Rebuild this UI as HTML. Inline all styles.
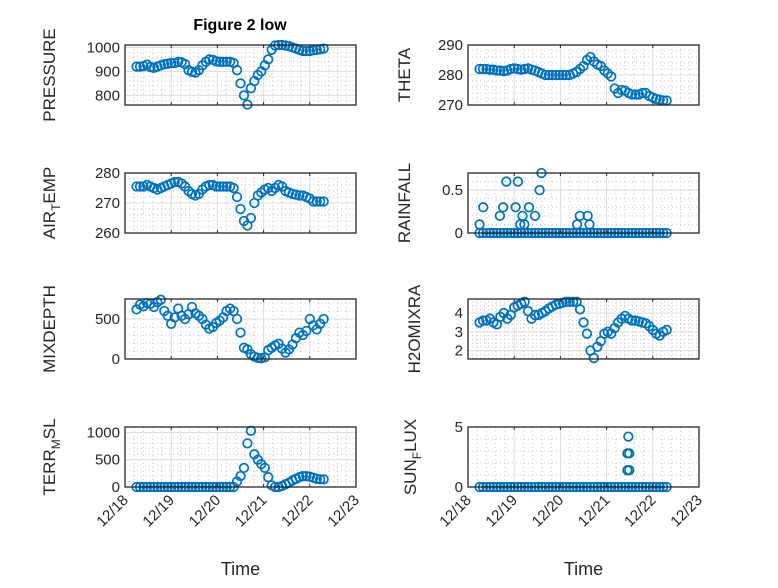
<!DOCTYPE html>
<html><head><meta charset="utf-8"><style>
body{margin:0;background:#fff;}
svg{font-family:"Liberation Sans","DejaVu Sans",sans-serif;}
</style></head><body>
<svg id="c" width="778" height="583" xmlns="http://www.w3.org/2000/svg"></svg>
<script>
const days=[0.25,0.325,0.4,0.475,0.55,0.625,0.7,0.775,0.85,0.925,1.0,1.075,1.15,1.225,1.3,1.375,1.45,1.525,1.6,1.675,1.75,1.825,1.9,1.975,2.05,2.125,2.2,2.275,2.35,2.425,2.5,2.575,2.65,2.725,2.8,2.875,2.95,3.025,3.1,3.175,3.25,3.325,3.4,3.475,3.55,3.625,3.7,3.775,3.85,3.925,4.0,4.075,4.15,4.225,4.3];
const pressure=[920,920,922,928,918,915,920,925,930,932,935,935,940,938,930,905,898,895,905,925,940,950,948,942,940,940,940,940,935,905,850,800,762,830,860,885,900,925,950,990,1008,1010,1010,1008,1005,1000,995,990,985,985,985,988,990,992,995];
const theta=[282,282,282,281.8,281.8,281.5,281.5,281.3,281.5,282,282.2,282,281.8,282,282.2,281.8,281.5,281,280.5,280,280,280,280,280,280,280,280,280.5,281,282,283,285,286,284.5,283.5,283,281.5,280.5,279.5,275.5,274,275,274.8,274,273.5,273.5,273.5,274,274,273,272.5,272,271.8,271.5,271.5];
const airTemp=[275.5,275.5,275.5,276,275.5,275,274.5,275,275.5,276,276.5,277,277,276.5,275.5,274,273,272.5,273,274.5,275.5,276,276,275.5,275.5,275.5,275.5,275.5,275,272,268,264,262.5,265,270,272.5,273.5,274.5,275,274,275,276,275.5,274,273.5,273,272.8,272.5,272.5,272,271.5,270.5,270.5,270.5,270.5];
const rainfall=[0,0,0,0,0,0,0,0,0,0,0,0,0,0,0,0,0,0,0,0,0,0,0,0,0,0,0,0,0,0,0,0,0,0,0,0,0,0,0,0,0,0,0,0,0,0,0,0,0,0,0,0,0,0,0];
const rainEventDays=[0.25,0.33,0.69,0.76,0.83,1.03,1.08,1.13,1.18,1.22,1.32,1.45,1.55,1.59,2.36,2.42,2.59,2.63];
const rainEventVals=[0.1,0.3,0.2,0.3,0.6,0.3,0.6,0.1,0.2,0.1,0.3,0.2,0.5,0.7,0.1,0.2,0.2,0.1];
const mixDepth=[620,680,660,700,690,650,710,740,600,540,440,520,630,540,500,560,650,570,540,500,430,380,400,450,480,520,600,630,600,500,330,140,120,60,30,15,10,20,110,140,170,190,130,80,120,180,260,330,300,350,500,420,370,440,500];
const h2oMix=[3.5,3.6,3.6,3.7,3.5,3.4,3.8,4.0,3.7,3.9,4.3,4.4,4.5,4.6,4.1,3.7,3.9,3.9,4.0,4.1,4.25,4.35,4.45,4.5,4.55,4.6,4.6,4.6,4.6,4.2,3.5,2.9,2.0,1.6,2.2,2.5,2.9,3.0,2.9,3.2,3.5,3.7,3.85,3.7,3.6,3.6,3.55,3.5,3.45,3.3,3.1,2.9,2.8,3.0,3.1];
const terrMsl=[0,0,0,0,0,0,0,0,0,0,0,0,0,0,0,0,0,0,0,0,0,0,0,0,0,0,0,0,0,100,200,350,800,1030,600,500,420,350,180,30,0,0,20,50,80,120,150,180,200,200,190,170,150,140,140];
const sunFlux=[0,0,0,0,0,0,0,0,0,0,0,0,0,0,0,0,0,0,0,0,0,0,0,0,0,0,0,0,0,0,0,0,0,0,0,0,0,0,0,0,0,0,0,0,0,0,0,0,0,0,0,0,0,0,0];
const sunEventDays=[3.47,3.45,3.49,3.45,3.49];
const sunEventVals=[4.2,2.8,2.8,1.4,1.4];
const xTickLabels=["12/18","12/19","12/20","12/21","12/22","12/23"];

const NS="http://www.w3.org/2000/svg";
const svg=document.getElementById('c');
function mk(tag,attrs,parent){const e=document.createElementNS(NS,tag);for(const k in attrs)e.setAttribute(k,attrs[k]);(parent||svg).appendChild(e);return e;}

const panels=[
 {id:'pressure',x0:125,y0:45,vals:pressure,ymin:760,ymax:1010,ticks:[800,900,1000],minor:20,label:['PRESSURE'],lo:70},
 {id:'theta',x0:468,y0:45,vals:theta,ymin:270,ymax:290,ticks:[270,280,290],minor:2,label:['THETA'],lo:58},
 {id:'air-temp',x0:125,y0:173,vals:airTemp,ymin:260,ymax:280,ticks:[260,270,280],minor:2,label:['AIR','T','EMP'],lo:70},
 {id:'rainfall',x0:468,y0:173,vals:rainfall,ymin:0,ymax:0.7,ticks:[0,0.5],minor:0.1,label:['RAINFALL'],evd:rainEventDays,evv:rainEventVals,lo:58},
 {id:'mixdepth',x0:125,y0:299,vals:mixDepth,ymin:0,ymax:750,ticks:[0,500],minor:100,label:['MIXDEPTH'],lo:70},
 {id:'h2omixra',x0:468,y0:299,vals:h2oMix,ymin:1.55,ymax:4.75,ticks:[2,3,4],minor:0.2,label:['H2OMIXRA'],lo:48},
 {id:'terr-msl',x0:125,y0:427,vals:terrMsl,ymin:0,ymax:1100,ticks:[0,500,1000],minor:100,label:['TERR','M','SL'],bottom:true,lo:70},
 {id:'sun-flux',x0:468,y0:427,vals:sunFlux,ymin:0,ymax:5,ticks:[0,5],minor:1,label:['SUN','F','LUX'],bottom:true,evd:sunEventDays,evv:sunEventVals,lo:52}
];
const W=231,H=60;
panels.forEach(p=>{
 const g=mk('g',{});
 
 
 const xs=d=>p.x0+d*W/5;
 const ys=v=>p.y0+H-(v-p.ymin)/(p.ymax-p.ymin)*H;
 mk('rect',{x:p.x0,y:p.y0,width:W,height:H,fill:'#fff'},g);
 for(let d=0;d<5;d+=0.2){if(Math.abs(d-Math.round(d))<1e-6)continue;
  mk('line',{x1:xs(d),x2:xs(d),y1:p.y0,y2:p.y0+H,stroke:'#c8c8c8','stroke-width':1,'stroke-dasharray':'1,3'},g);}
 for(let v=Math.ceil(p.ymin/p.minor)*p.minor;v<p.ymax;v+=p.minor){
  mk('line',{x1:p.x0,x2:p.x0+W,y1:ys(v),y2:ys(v),stroke:'#c8c8c8','stroke-width':1,'stroke-dasharray':'1,3'},g);}
 for(let d=1;d<5;d++) mk('line',{x1:xs(d),x2:xs(d),y1:p.y0,y2:p.y0+H,stroke:'#dcdcdc','stroke-width':1},g);
 p.ticks.forEach(v=>{
  mk('line',{x1:p.x0,x2:p.x0+W,y1:ys(v),y2:ys(v),stroke:'#dcdcdc','stroke-width':1},g);
  const t=mk('text',{x:p.x0-5,y:ys(v)+5,'text-anchor':'end','font-size':15,fill:'#262626'},g);
  t.textContent=String(v);
  
  
 });
 const dg=mk('g',{fill:'none',stroke:'#0072BD','stroke-width':1.7},g);
 
 
 p.vals.forEach((v,i)=>{
  const c=mk('circle',{cx:xs(days[i]),cy:ys(v),r:4.3},dg);
  
  
 });
 if(p.evd) p.evd.forEach((d,i)=>{
  const c=mk('circle',{cx:xs(d),cy:ys(p.evv[i]),r:4.3},dg);
  
  
 });
 mk('rect',{x:p.x0,y:p.y0,width:W,height:H,fill:'none',stroke:'#262626','stroke-width':1.3},g);
 for(let d=1;d<5;d++){
  mk('line',{x1:xs(d),x2:xs(d),y1:p.y0+H,y2:p.y0+H-3,stroke:'#262626'},g);
  mk('line',{x1:xs(d),x2:xs(d),y1:p.y0,y2:p.y0+3,stroke:'#262626'},g);
 }
 const cy=p.y0+H/2, lx=p.x0-p.lo;
 const yl=mk('text',{x:lx,y:cy,'text-anchor':'middle','font-size':17,fill:'#262626',transform:`rotate(-90 ${lx} ${cy})`},g);
 
 
 if(p.label.length===1) yl.textContent=p.label[0];
 else{
  const a=mk('tspan',{},yl);a.textContent=p.label[0];
  const b=mk('tspan',{dy:5,'font-size':12},yl);b.textContent=p.label[1];
  const c=mk('tspan',{dy:-5},yl);c.textContent=p.label[2];
 }
 if(p.bottom){
  xTickLabels.forEach((s,i)=>{
   const tx=xs(i)+4, ty=p.y0+H+14;
   const t=mk('text',{x:tx,y:ty,'text-anchor':'end','font-size':15,fill:'#262626',transform:`rotate(-45 ${tx} ${ty})`},g);
   t.textContent=s;
   
   
  });
  const xl=mk('text',{x:p.x0+W/2,y:575,'text-anchor':'middle','font-size':18,fill:'#262626'},g);
  xl.textContent='Time';
  
  
 }
});
const title=mk('text',{x:240,y:30,'text-anchor':'middle','font-size':16,'font-weight':'bold',fill:'#000'});
title.textContent='Figure 2 low';


</script>
</body></html>
